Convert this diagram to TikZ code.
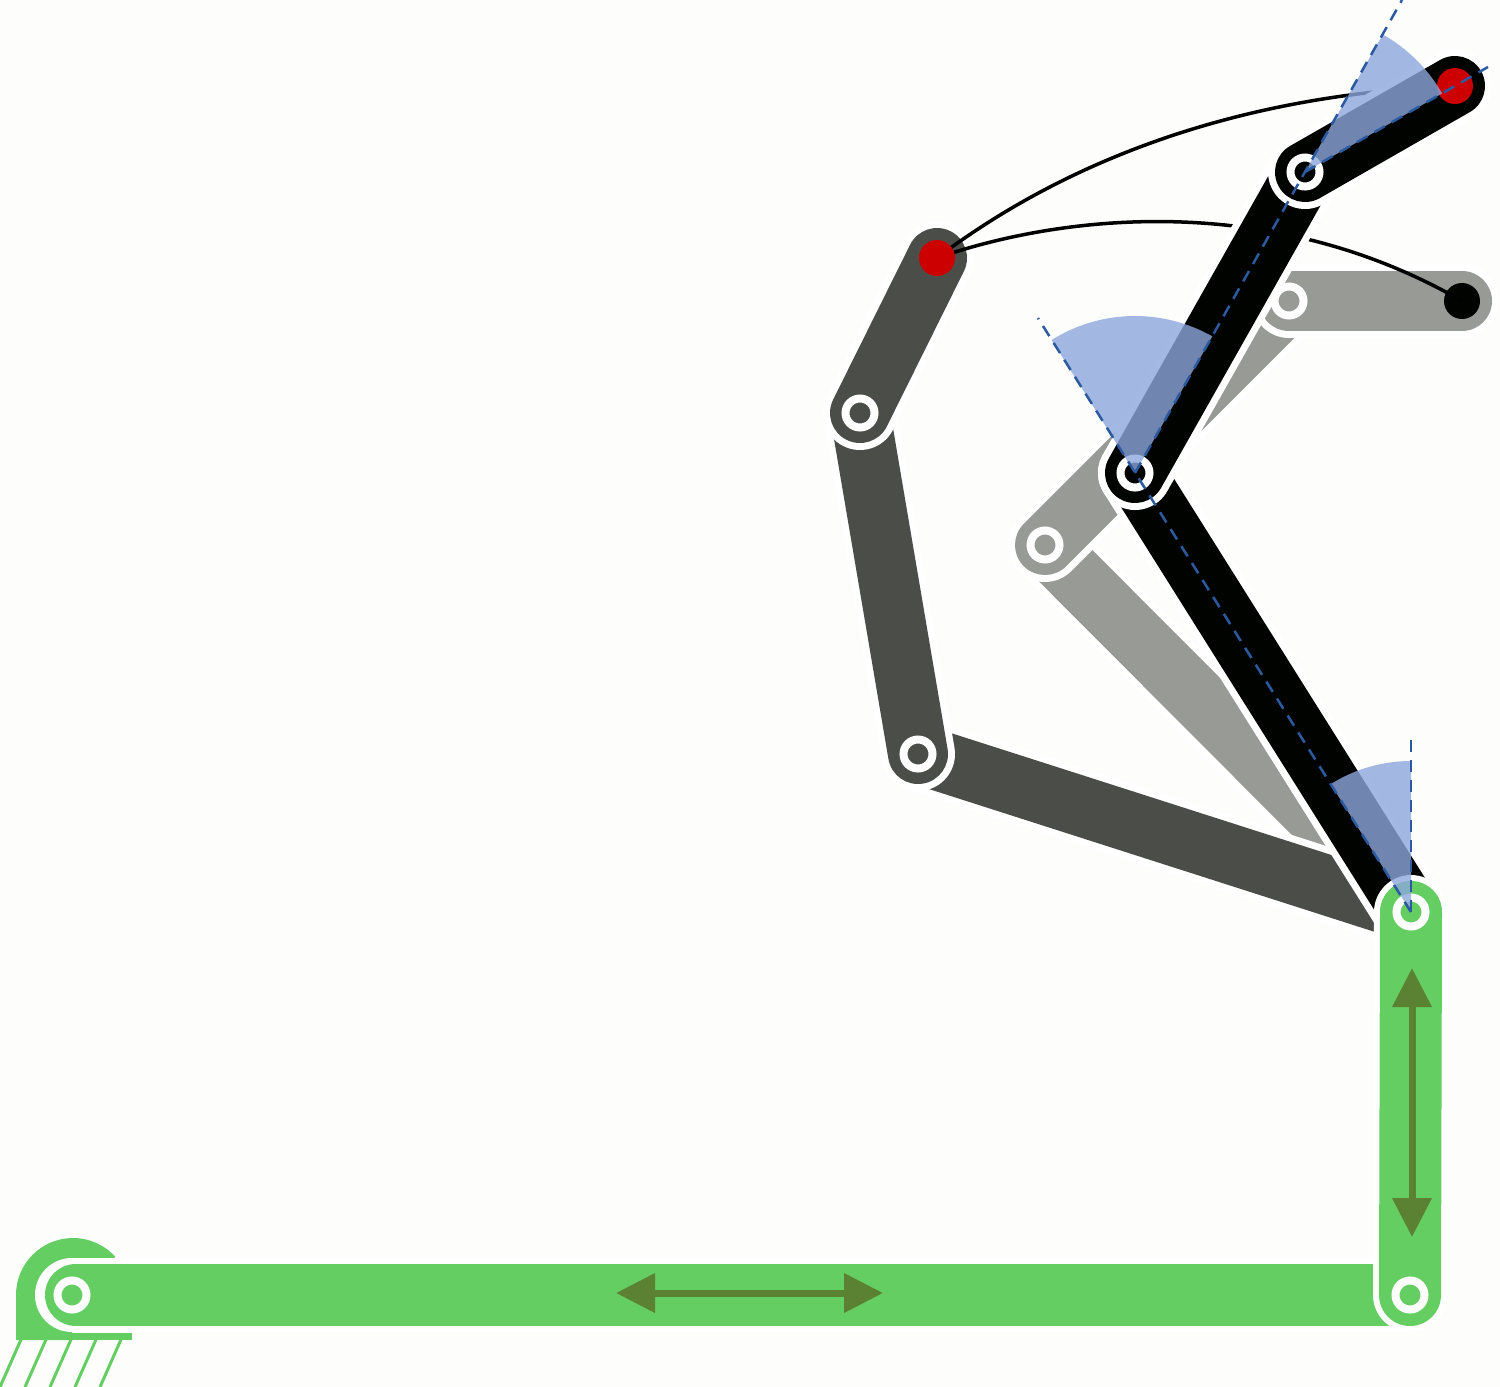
\documentclass[tikz,border=0pt]{standalone}
\usepackage{xcolor}
\usetikzlibrary{arrows.meta}
\definecolor{paper}{HTML}{FDFEFC}
\definecolor{grn}{HTML}{64CE62}
\definecolor{grnd}{HTML}{5A8232}
\definecolor{lgrey}{HTML}{989A96}
\definecolor{dgrey}{HTML}{4B4D49}
\definecolor{blk}{HTML}{000300}
\definecolor{redd}{HTML}{CC0000}
\definecolor{wedge}{HTML}{8CA7DC}
\definecolor{dashc}{HTML}{2C5AA0}
\tikzset{
  halo/.style={line width=74pt,white,line cap=round},
  bar/.style={line width=60pt,line cap=round},
  ring/.style={draw=white,line width=8pt},
  tipdot/.style={fill=#1},
  sector/.style={fill=wedge,fill opacity=0.8},
  refline/.style={draw=dashc,line width=2.5pt,dash pattern=on 12pt off 8pt},
  path/.style={draw=black,line width=3.5pt},
  motion/.style={draw=grnd,line width=7pt,{Triangle[length=39pt,width=38pt]}-{Triangle[length=39pt,width=38pt]}},
  hatch/.style={draw=grn,line width=3pt}
}
\newcommand{\linkbar}[3]{
  \draw[halo] (#1) -- (#2);
  \draw[bar,#3] (#1) -- (#2);
}
\begin{document}
\begin{tikzpicture}[x=1pt,y=-1pt]
  \fill[paper] (0,0) rectangle (1500,1387);
  \useasboundingbox (0,0) rectangle (1500,1387);
  \coordinate (base) at (72,1295);
  \coordinate (slideA) at (1410,1295);
  \coordinate (slideB) at (1411,912);
  \coordinate (darkA) at (918,754);
  \coordinate (darkB) at (860,413);
  \coordinate (darkC) at (937,258);
  \coordinate (greyA) at (1045,545);
  \coordinate (greyB) at (1289,301);
  \coordinate (greyC) at (1462,301);
  \coordinate (elbow) at (1135,473);
  \coordinate (wrist) at (1305,172);
  \coordinate (tool) at (1455,86);
  % grey pose
  \linkbar{slideB}{greyA}{lgrey}
  \draw[ring,fill=lgrey] (greyA) circle (14.5);
  \linkbar{greyA}{greyB}{lgrey}
  \draw[ring] (greyA) circle (14.5);
  \linkbar{greyB}{greyC}{lgrey}
  \draw[ring] (greyB) circle (14.5);
  \fill[blk] (greyC) circle (18);
  % dark pose
  \linkbar{slideB}{darkA}{dgrey}
  \linkbar{darkA}{darkB}{dgrey}
  \draw[ring] (darkA) circle (14.5);
  \linkbar{darkB}{darkC}{dgrey}
  \draw[ring] (darkB) circle (14.5);
  % tool paths
  \draw[path] (darkC) .. controls (1060,165) and (1230,95) .. (tool);
  \draw[path] (darkC) .. controls (1060,215) and (1270,190) .. (greyC);
  \fill[redd] (darkC) circle (18);
  % black pose
  \linkbar{slideB}{elbow}{blk}
  \linkbar{elbow}{wrist}{blk}
  \draw[ring] (elbow) circle (14.5);
  \linkbar{wrist}{tool}{blk}
  \draw[ring] (wrist) circle (14.5);
  \fill[redd] (tool) circle (18);
  % ground
  \fill[grn] (16,1340) -- (16,1295) arc[start angle=180,end angle=318,radius=57] -- (base) -- (72,1340) -- cycle;
  \fill[grn] (16,1333) rectangle (132,1340);
  \foreach \i in {0,...,4}
    \draw[hatch] (23+25*\i,1335) -- (25*\i,1387);
  % slides
  \draw[line width=74pt,white,line cap=round] (base) -- (slideA);
  \draw[line width=62pt,grn,line cap=round] (76,1295) -- (slideA);
  \draw[ring] (base) circle (14.5);
  \draw[line width=74pt,white,line cap=round] (slideA) -- (slideB);
  \draw[line width=62pt,grn,line cap=round] (slideA) -- (slideB);
  \draw[ring] (slideA) circle (14.5);
  \draw[ring] (slideB) circle (14.5);
  \coordinate (horizL) at (616,1293);
  \coordinate (horizR) at (883,1293);
  \coordinate (vertT) at (1412,968);
  \coordinate (vertB) at (1412,1237);
  \draw[motion] (horizL) -- (horizR);
  \draw[motion] (vertT) -- (vertB);
  % angles
  \fill[sector] (slideB) -- +(-90:151) arc[start angle=-90,end angle=-122.1,radius=151] -- cycle;
  \fill[sector] (elbow) -- +(-122.1:157) arc[start angle=-122.1,end angle=-60.5,radius=157] -- cycle;
  \fill[sector] (wrist) -- +(-60.5:158) arc[start angle=-60.5,end angle=-29.8,radius=158] -- cycle;
  \coordinate (refA) at (1411,740);
  \coordinate (refB) at (1038,318);
  \coordinate (refC) at (1398,7);
  \coordinate (refD) at (1488,67);
  \draw[refline] (slideB) -- (refA);
  \draw[refline] (slideB) -- (refB);
  \draw[refline] (elbow) -- (1402,0);
  \draw[refline] (wrist) -- (refD);
\end{tikzpicture}
\end{document}
